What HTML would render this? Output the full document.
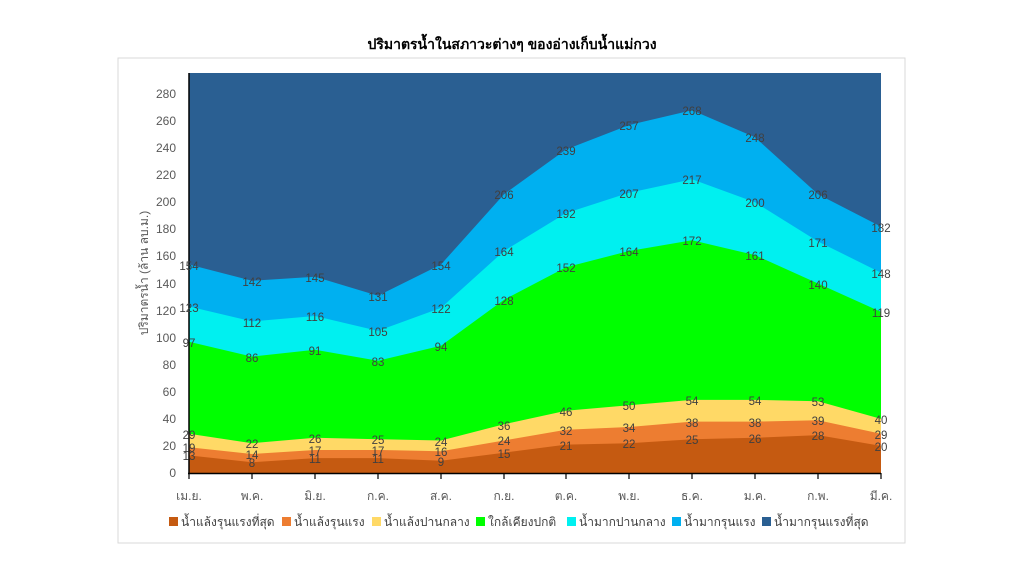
<!DOCTYPE html>
<html><head><meta charset="utf-8"><style>
body{margin:0;background:#fff;}
svg{display:block;font-family:"Liberation Sans","Noto Sans CJK SC","WenQuanYi Zen Hei",sans-serif;}
</style></head><body>
<svg width="1024" height="576" viewBox="0 0 1024 576">
<rect x="118" y="58" width="787" height="485" fill="#fff" stroke="#d9d9d9"/>
<text x="512" y="49" text-anchor="middle" font-size="14" font-weight="bold" fill="#000">ปริมาตรน้ำในสภาวะต่างๆ ของอ่างเก็บน้ำแม่กวง</text>
<rect x="189" y="73" width="692" height="400" fill="#2a5f92"/>
<polygon fill="#00b0f0" points="189,264.5 252,280.8 315,276.7 378,295.7 441,264.5 504,194.2 566,149.5 629,125.1 692,110.2 755,137.3 818,194.2 881,226.6 881,473 189,473"/>
<polygon fill="#00f0f0" points="189,306.5 252,321.4 315,316 378,330.9 441,307.9 504,251 566,213.1 629,192.8 692,179.3 755,202.3 818,241.5 881,272.7 881,473 189,473"/>
<polygon fill="#00ff00" points="189,341.7 252,356.6 315,349.8 378,360.7 441,345.8 504,299.7 566,267.3 629,251 692,240.2 755,255.1 818,283.5 881,311.9 881,473 189,473"/>
<polygon fill="#ffd966" points="189,433.7 252,443.2 315,437.8 378,439.2 441,440.5 504,424.3 566,410.7 629,405.3 692,399.9 755,399.9 818,401.3 881,418.9 881,473 189,473"/>
<polygon fill="#ed7d31" points="189,447.3 252,454 315,450 378,450 441,451.3 504,440.5 566,429.7 629,427 692,421.6 755,421.6 818,420.2 881,433.7 881,473 189,473"/>
<polygon fill="#c55a11" points="189,455.4 252,462.2 315,458.1 378,458.1 441,460.8 504,452.7 566,444.6 629,443.2 692,439.2 755,437.8 818,435.1 881,445.9 881,473 189,473"/>
<g stroke="#000" stroke-width="1.5">
<line x1="189" y1="73" x2="189" y2="474"/><line x1="188" y1="473.5" x2="881" y2="473.5"/>
</g>
<g stroke="#000" stroke-width="1.2">
<line x1="189" y1="473" x2="189" y2="479"/><line x1="252" y1="473" x2="252" y2="479"/><line x1="315" y1="473" x2="315" y2="479"/><line x1="378" y1="473" x2="378" y2="479"/><line x1="441" y1="473" x2="441" y2="479"/><line x1="504" y1="473" x2="504" y2="479"/><line x1="566" y1="473" x2="566" y2="479"/><line x1="629" y1="473" x2="629" y2="479"/><line x1="692" y1="473" x2="692" y2="479"/><line x1="755" y1="473" x2="755" y2="479"/><line x1="818" y1="473" x2="818" y2="479"/><line x1="881" y1="473" x2="881" y2="479"/>
</g>
<g font-size="12" fill="#595959" text-anchor="end">
<text x="176" y="477">0</text><text x="176" y="450">20</text><text x="176" y="423">40</text><text x="176" y="396">60</text><text x="176" y="369">80</text><text x="176" y="342">100</text><text x="176" y="315">120</text><text x="176" y="288">140</text><text x="176" y="260">160</text><text x="176" y="233">180</text><text x="176" y="206">200</text><text x="176" y="179">220</text><text x="176" y="152">240</text><text x="176" y="125">260</text><text x="176" y="98">280</text>
</g>
<text transform="translate(148,273) rotate(-90)" text-anchor="middle" font-size="12" fill="#595959">ปริมาตรน้ำ (ล้าน ลบ.ม.)</text>
<g font-size="12" fill="#595959" text-anchor="middle">
<text x="189" y="500">เม.ย.</text><text x="252" y="500">พ.ค.</text><text x="315" y="500">มิ.ย.</text><text x="378" y="500">ก.ค.</text><text x="441" y="500">ส.ค.</text><text x="504" y="500">ก.ย.</text><text x="566" y="500">ต.ค.</text><text x="629" y="500">พ.ย.</text><text x="692" y="500">ธ.ค.</text><text x="755" y="500">ม.ค.</text><text x="818" y="500">ก.พ.</text><text x="881" y="500">มี.ค.</text>
</g>
<g font-size="11.5" fill="#404040" text-anchor="middle">
<text x="189" y="460">13</text><text x="252" y="467">8</text><text x="315" y="463">11</text><text x="378" y="463">11</text><text x="441" y="466">9</text><text x="504" y="458">15</text><text x="566" y="450">21</text><text x="629" y="448">22</text><text x="692" y="444">25</text><text x="755" y="443">26</text><text x="818" y="440">28</text><text x="881" y="451">20</text>
<text x="189" y="452">19</text><text x="252" y="459">14</text><text x="315" y="455">17</text><text x="378" y="455">17</text><text x="441" y="456">16</text><text x="504" y="445">24</text><text x="566" y="435">32</text><text x="629" y="432">34</text><text x="692" y="427">38</text><text x="755" y="427">38</text><text x="818" y="425">39</text><text x="881" y="439">29</text>
<text x="189" y="439">29</text><text x="252" y="448">22</text><text x="315" y="443">26</text><text x="378" y="444">25</text><text x="441" y="446">24</text><text x="504" y="430">36</text><text x="566" y="416">46</text><text x="629" y="410">50</text><text x="692" y="405">54</text><text x="755" y="405">54</text><text x="818" y="406">53</text><text x="881" y="424">40</text>
<text x="189" y="347">97</text><text x="252" y="362">86</text><text x="315" y="355">91</text><text x="378" y="366">83</text><text x="441" y="351">94</text><text x="504" y="305">128</text><text x="566" y="272">152</text><text x="629" y="256">164</text><text x="692" y="245">172</text><text x="755" y="260">161</text><text x="818" y="289">140</text><text x="881" y="317">119</text>
<text x="189" y="312">123</text><text x="252" y="327">112</text><text x="315" y="321">116</text><text x="378" y="336">105</text><text x="441" y="313">122</text><text x="504" y="256">164</text><text x="566" y="218">192</text><text x="629" y="198">207</text><text x="692" y="184">217</text><text x="755" y="207">200</text><text x="818" y="247">171</text><text x="881" y="278">148</text>
<text x="189" y="270">154</text><text x="252" y="286">142</text><text x="315" y="282">145</text><text x="378" y="301">131</text><text x="441" y="270">154</text><text x="504" y="199">206</text><text x="566" y="155">239</text><text x="629" y="130">257</text><text x="692" y="115">268</text><text x="755" y="142">248</text><text x="818" y="199">206</text><text x="881" y="232">182</text>
</g>
<g font-size="12" fill="#404040">
<rect x="169" y="517" width="9" height="9" fill="#c55a11"/><text x="181" y="526">น้ำแล้งรุนแรงที่สุด</text>
<rect x="282" y="517" width="9" height="9" fill="#ed7d31"/><text x="294" y="526">น้ำแล้งรุนแรง</text>
<rect x="372" y="517" width="9" height="9" fill="#ffd966"/><text x="384" y="526">น้ำแล้งปานกลาง</text>
<rect x="476" y="517" width="9" height="9" fill="#00ff00"/><text x="488" y="526">ใกล้เคียงปกติ</text>
<rect x="567" y="517" width="9" height="9" fill="#00f0f0"/><text x="579" y="526">น้ำมากปานกลาง</text>
<rect x="672" y="517" width="9" height="9" fill="#00b0f0"/><text x="684" y="526">น้ำมากรุนแรง</text>
<rect x="762" y="517" width="9" height="9" fill="#2a5f92"/><text x="774" y="526">น้ำมากรุนแรงที่สุด</text>
</g>
</svg>
</body></html>
